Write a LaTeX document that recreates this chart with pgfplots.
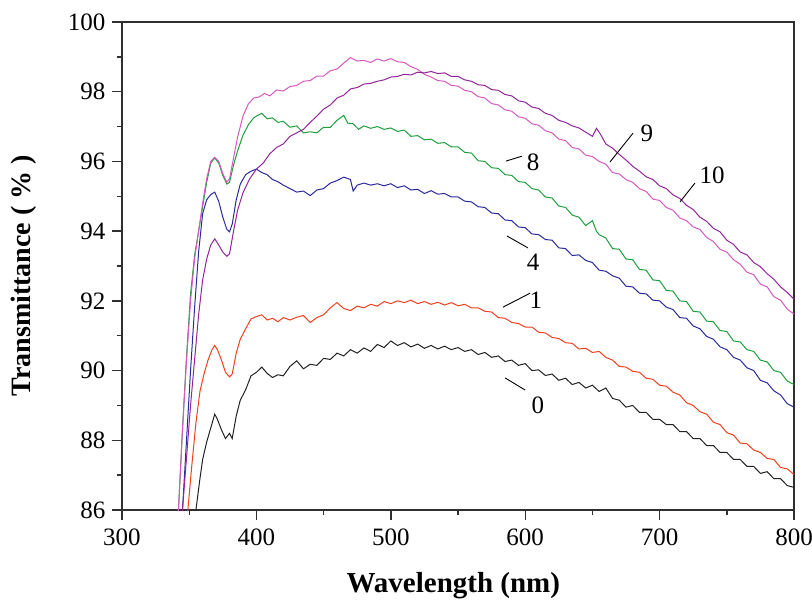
\documentclass[border=0pt]{standalone}
\usepackage{fontspec}
\setmainfont{Liberation Serif}
\usepackage{pgfplots}
\pgfplotsset{compat=1.18}
\usepackage{pgfplotstable}
\definecolor{cBlack}{HTML}{222222}
\definecolor{cRed}{HTML}{F0401E}
\definecolor{cBlue}{HTML}{2A2A9C}
\definecolor{cGreen}{HTML}{1E9E3C}
\definecolor{cPink}{HTML}{D45AC0}
\definecolor{cPurple}{HTML}{92259A}
\definecolor{axgray}{HTML}{303030}

\pgfplotstableread{
x y
352 85.4
355 86.0
358 86.9
360 87.45
363 87.95
366 88.35
369 88.75
371 88.6
374 88.3
377 88.05
380 88.2
382 88.05
385 88.7
388 89.15
392 89.45
396 89.85
400 89.95
404 90.1
408 89.92
412 89.8
416 89.88
420 89.85
425 90.12
430 90.28
435 90.05
440 90.18
445 90.15
450 90.35
455 90.32
460 90.5
465 90.42
470 90.6
475 90.5
480 90.65
485 90.55
490 90.75
495 90.66
500 90.85
505 90.72
510 90.8
515 90.68
520 90.76
525 90.64
530 90.72
535 90.62
540 90.7
545 90.6
550 90.66
555 90.55
560 90.6
565 90.46
570 90.52
575 90.38
580 90.42
585 90.26
590 90.3
595 90.15
600 90.2
605 90.0
610 90.02
615 89.86
620 89.9
625 89.72
630 89.78
635 89.6
640 89.66
645 89.5
650 89.58
655 89.4
660 89.5
665 89.2
670 89.15
675 88.95
680 89.0
685 88.8
690 88.8
695 88.6
700 88.6
705 88.45
710 88.45
715 88.25
720 88.25
725 88.05
730 88.05
735 87.85
740 87.85
745 87.65
750 87.65
755 87.45
760 87.45
765 87.25
770 87.25
775 87.05
780 87.1
785 86.9
790 86.9
795 86.7
800 86.65
}\dataZero

\pgfplotstableread{
x y
346 85.4
349 86.0
352 87.3
355 88.5
358 89.4
361 89.9
364 90.3
367 90.6
369 90.72
371 90.6
374 90.3
377 89.95
380 89.82
382 89.9
385 90.5
388 90.9
392 91.2
396 91.48
400 91.55
404 91.6
408 91.45
412 91.5
416 91.4
420 91.52
425 91.45
430 91.53
435 91.58
440 91.38
445 91.52
450 91.6
455 91.8
460 91.95
465 91.78
470 91.72
475 91.85
480 91.8
485 91.9
490 91.85
495 91.98
500 91.92
505 92.0
510 91.95
515 92.02
520 91.92
525 91.98
530 91.9
535 91.96
540 91.88
545 91.95
550 91.86
555 91.9
560 91.8
565 91.8
570 91.7
575 91.68
580 91.52
585 91.5
590 91.38
595 91.35
600 91.25
605 91.25
610 91.1
615 91.08
620 90.95
625 90.92
630 90.8
635 90.78
640 90.62
645 90.64
650 90.52
655 90.55
660 90.38
665 90.3
670 90.12
675 90.1
680 89.98
685 89.95
690 89.78
695 89.75
700 89.58
705 89.55
710 89.38
715 89.3
720 89.08
725 89.0
730 88.82
735 88.75
740 88.52
745 88.45
750 88.22
755 88.15
760 87.92
765 87.9
770 87.72
775 87.65
780 87.48
785 87.45
790 87.22
795 87.18
800 87.02
}\dataOne

\pgfplotstableread{
x y
342 85.4
345 86.0
348 88.0
351 90.0
354 91.8
357 93.4
360 94.5
363 94.9
366 95.05
369 95.12
372 94.85
375 94.4
378 94.05
380 93.98
382 94.2
385 94.9
388 95.35
392 95.62
396 95.72
400 95.78
404 95.68
408 95.62
412 95.48
416 95.42
420 95.32
425 95.22
430 95.12
435 95.15
440 95.02
445 95.18
450 95.22
455 95.38
460 95.45
465 95.55
470 95.48
472 95.15
475 95.32
480 95.38
485 95.32
490 95.36
495 95.3
500 95.36
505 95.25
510 95.3
515 95.18
520 95.2
525 95.08
530 95.16
535 95.06
540 95.08
545 94.98
550 94.98
555 94.86
560 94.84
565 94.7
570 94.68
575 94.52
580 94.5
585 94.32
590 94.3
595 94.12
600 94.1
605 93.92
610 93.9
615 93.76
620 93.74
625 93.52
630 93.5
635 93.3
640 93.32
645 93.16
650 93.1
655 92.88
660 92.85
665 92.72
670 92.65
675 92.42
680 92.4
685 92.22
690 92.2
695 92.02
700 92.0
705 91.82
710 91.75
715 91.52
720 91.5
725 91.28
730 91.2
735 90.98
740 90.9
745 90.68
750 90.6
755 90.38
760 90.3
765 90.08
770 90.0
775 89.72
780 89.65
785 89.42
790 89.3
795 89.05
800 88.95
}\dataFour

\pgfplotstableread{
x y
339 85.4
342 86.0
345 88.3
348 90.4
351 92.2
354 93.3
357 94.0
360 94.7
363 95.4
366 95.95
369 96.1
372 95.95
375 95.6
378 95.35
380 95.4
383 95.9
386 96.3
390 96.75
394 97.05
398 97.25
400 97.3
404 97.38
408 97.22
412 97.25
416 97.12
420 97.15
425 96.98
430 97.02
435 96.82
440 96.85
445 96.82
450 96.98
455 96.98
460 97.18
465 97.32
468 97.1
472 97.08
476 96.92
480 97.02
485 96.95
490 97.0
495 96.92
500 96.96
505 96.86
510 96.9
515 96.72
520 96.74
525 96.62
530 96.64
535 96.52
540 96.54
545 96.42
550 96.42
555 96.26
560 96.24
565 96.02
570 96.0
575 95.82
580 95.8
585 95.62
590 95.6
595 95.42
600 95.4
605 95.22
610 95.18
615 94.98
620 94.95
625 94.72
630 94.68
635 94.46
640 94.4
645 94.16
650 94.3
653 94.0
655 93.9
660 93.8
665 93.5
670 93.48
675 93.2
680 93.18
685 92.9
690 92.88
695 92.6
700 92.58
705 92.3
710 92.28
715 92.0
720 91.98
725 91.7
730 91.68
735 91.42
740 91.4
745 91.15
750 91.12
755 90.85
760 90.82
765 90.6
770 90.55
775 90.3
780 90.25
785 90.0
790 89.95
795 89.7
800 89.6
}\dataEight

\pgfplotstableread{
x y
339 85.4
342 86.0
345 88.3
348 90.3
351 92.0
354 93.2
357 94.0
360 94.8
363 95.5
366 96.0
369 96.12
372 96.0
375 95.65
378 95.4
380 95.5
383 96.1
386 96.7
390 97.3
394 97.65
398 97.82
402 97.85
406 97.95
410 97.88
415 98.05
420 98.02
425 98.15
430 98.18
435 98.3
440 98.32
445 98.45
450 98.45
455 98.6
460 98.65
465 98.82
470 98.98
475 98.88
480 98.9
485 98.84
490 98.94
495 98.88
500 98.95
505 98.86
510 98.84
515 98.72
520 98.64
525 98.5
530 98.42
535 98.32
540 98.3
545 98.18
550 98.16
555 98.04
560 98.0
565 97.86
570 97.82
575 97.66
580 97.62
585 97.48
590 97.44
595 97.28
600 97.24
605 97.08
610 97.04
615 96.88
620 96.82
625 96.64
630 96.6
635 96.4
640 96.36
645 96.18
650 96.14
655 96.0
660 95.92
665 95.68
670 95.64
675 95.48
680 95.4
685 95.22
690 95.14
695 94.92
700 94.88
705 94.68
710 94.6
715 94.38
720 94.3
725 94.12
730 94.05
735 93.82
740 93.7
745 93.48
750 93.4
755 93.18
760 93.05
765 92.82
770 92.75
775 92.48
780 92.4
785 92.12
790 92.02
795 91.76
800 91.62
}\dataNine

\pgfplotstableread{
x y
342 85.4
345 86.0
348 87.5
351 89.0
354 90.3
357 91.6
360 92.6
363 93.2
366 93.6
369 93.78
372 93.6
375 93.4
378 93.28
380 93.35
383 94.0
386 94.6
390 95.1
395 95.5
400 95.78
405 95.95
410 96.22
415 96.4
420 96.5
425 96.72
430 96.82
435 96.92
440 97.12
445 97.3
450 97.5
455 97.62
460 97.82
465 97.9
470 98.08
475 98.12
480 98.22
485 98.24
490 98.3
495 98.34
500 98.42
505 98.44
510 98.5
515 98.48
520 98.56
525 98.54
530 98.58
535 98.52
540 98.54
545 98.44
550 98.44
555 98.34
560 98.3
565 98.2
570 98.18
575 98.06
580 98.04
585 97.92
590 97.88
595 97.74
600 97.7
605 97.56
610 97.52
615 97.38
620 97.32
625 97.18
630 97.12
635 97.02
640 96.96
645 96.84
650 96.72
653 96.95
656 96.78
660 96.5
665 96.38
670 96.2
675 96.04
680 95.86
685 95.72
690 95.56
695 95.48
700 95.3
705 95.22
710 95.04
715 94.94
720 94.74
725 94.62
730 94.4
735 94.28
740 94.08
745 93.98
750 93.74
755 93.62
760 93.4
765 93.32
770 93.1
775 92.98
780 92.78
785 92.62
790 92.4
795 92.24
800 92.05
}\dataTen

\begin{document}
\begin{tikzpicture}
\begin{axis}[
  scale only axis,
  width=672pt, height=488pt,
  xmin=300, xmax=800, ymin=86, ymax=100,
  xtick={300,400,...,800},
  ytick={86,88,...,100},
  xticklabels={300,400,500,600,700,800},
  yticklabels={86,88,90,92,94,96,98,100},
  minor xtick={350,450,...,750},
  minor ytick={87,89,...,99},
  tick pos=left,
  tick align=outside,
  major tick length=10pt,
  minor tick length=5pt,
  axis line style={axgray, line width=1.6pt},
  every tick/.style={axgray, line width=1.4pt},
  ticklabel style={font=\fontsize{25}{30}\selectfont},
  xticklabel style={yshift=-5pt},
  yticklabel style={xshift=-3pt},
  xlabel={\textbf{Wavelength (nm)}},
  ylabel={\textbf{Transmittance ( \% )}},
  xlabel style={font=\fontsize{29}{34}\selectfont, at={(axis description cs:0.493,-0.170)}, anchor=base},
  ylabel style={font=\fontsize{28}{33}\selectfont, at={(axis description cs:-0.146,0.48)}, anchor=center},
  every axis plot/.append style={line width=1.0pt, mark=none},
]
\addplot[cBlack] table {\dataZero};
\addplot[cRed] table {\dataOne};
\addplot[cBlue] table {\dataFour};
\addplot[cGreen] table {\dataEight};
\addplot[cPink] table {\dataNine};
\addplot[cPurple] table {\dataTen};

\draw[black, line width=0.9pt] (axis cs:585,89.79) -- (axis cs:600,89.44);
\node[font=\fontsize{25}{30}\selectfont] at (axis cs:609.5,89.01) {0};
\draw[black, line width=0.9pt] (axis cs:583.5,91.82) -- (axis cs:603.6,92.22);
\node[font=\fontsize{25}{30}\selectfont] at (axis cs:608,92.02) {1};
\draw[black, line width=0.9pt] (axis cs:586.5,93.86) -- (axis cs:602,93.52);
\node[font=\fontsize{25}{30}\selectfont] at (axis cs:605.8,93.1) {4};
\draw[black, line width=0.9pt] (axis cs:585.7,96.01) -- (axis cs:597.6,96.15);
\node[font=\fontsize{25}{30}\selectfont] at (axis cs:605.8,95.98) {8};
\draw[black, line width=0.9pt] (axis cs:663,95.98) -- (axis cs:680.2,96.81);
\node[font=\fontsize{25}{30}\selectfont] at (axis cs:690.6,96.81) {9};
\draw[black, line width=0.9pt] (axis cs:715.2,94.84) -- (axis cs:726.3,95.38);
\node[font=\fontsize{25}{30}\selectfont] at (axis cs:739,95.61) {10};

\coordinate (sw) at (rel axis cs:0,0);
\coordinate (ne) at (rel axis cs:1,1);
\end{axis}
\pgfresetboundingbox
\path[use as bounding box] ([shift={(-122pt,-90pt)}]sw) rectangle ([shift={(18pt,22pt)}]ne);
\end{tikzpicture}
\end{document}
